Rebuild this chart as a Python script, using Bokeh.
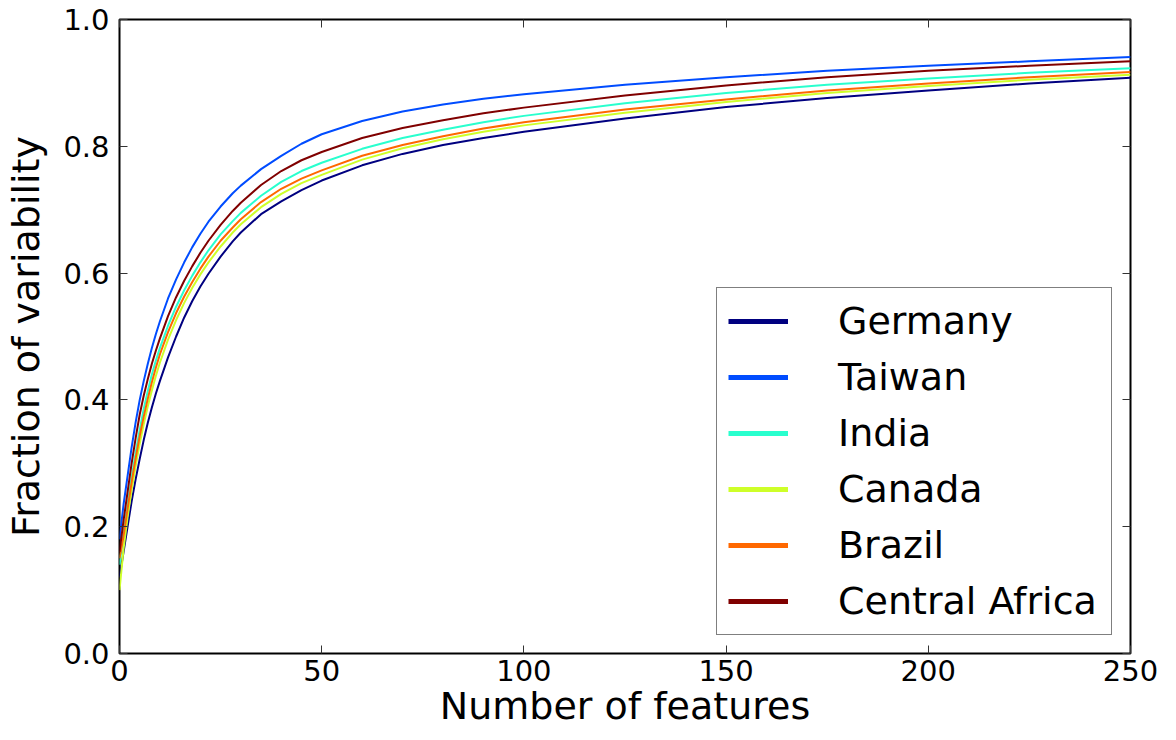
from bokeh.plotting import figure
from bokeh.models import (Range1d, FixedTicker, LinearAxis, Legend, LegendItem,
                          PrintfTickFormatter, CustomJSTickFormatter)
from bokeh.embed import file_html
from bokeh.resources import INLINE

# ---------------- data ----------------
features = [0, 1, 2, 3, 4, 5, 6, 7, 8, 9, 10, 12, 14, 16, 18, 20, 22, 25, 28, 30,
            35, 40, 45, 50, 60, 70, 80, 90, 100, 125, 150, 175, 200, 225, 250]

germany = [0.12, 0.16, 0.20, 0.24, 0.275, 0.307, 0.337, 0.364, 0.388, 0.41, 0.43,
           0.467, 0.50, 0.53, 0.556, 0.579, 0.599, 0.626, 0.65, 0.664,
           0.693, 0.713, 0.731, 0.746, 0.770, 0.788, 0.802, 0.813, 0.823,
           0.844, 0.862, 0.876, 0.888, 0.899, 0.908]
taiwan = [0.18, 0.235, 0.28, 0.325, 0.365, 0.40, 0.43, 0.457, 0.482, 0.504, 0.524,
          0.56, 0.59, 0.617, 0.641, 0.662, 0.681, 0.705, 0.726, 0.738,
          0.764, 0.785, 0.804, 0.819, 0.840, 0.855, 0.866, 0.875, 0.882,
          0.897, 0.909, 0.919, 0.927, 0.934, 0.941]
india = [0.14, 0.19, 0.235, 0.278, 0.317, 0.353, 0.386, 0.414, 0.44, 0.462, 0.482,
         0.517, 0.547, 0.573, 0.596, 0.617, 0.636, 0.661, 0.682, 0.695,
         0.722, 0.744, 0.761, 0.774, 0.796, 0.813, 0.826, 0.838, 0.848,
         0.868, 0.884, 0.897, 0.907, 0.916, 0.923]
canada = [0.10, 0.165, 0.215, 0.258, 0.296, 0.331, 0.362, 0.39, 0.415, 0.438, 0.459,
          0.495, 0.526, 0.553, 0.577, 0.598, 0.617, 0.642, 0.664, 0.677,
          0.704, 0.725, 0.742, 0.755, 0.779, 0.797, 0.811, 0.823, 0.833,
          0.853, 0.870, 0.884, 0.895, 0.905, 0.913]
brazil = [0.15, 0.185, 0.228, 0.27, 0.308, 0.343, 0.374, 0.402, 0.428, 0.451, 0.472,
          0.507, 0.537, 0.563, 0.586, 0.607, 0.626, 0.651, 0.672, 0.685,
          0.712, 0.733, 0.749, 0.762, 0.785, 0.802, 0.816, 0.828, 0.838,
          0.858, 0.874, 0.888, 0.899, 0.909, 0.917]
central_africa = [0.16, 0.21, 0.255, 0.30, 0.34, 0.377, 0.407, 0.433, 0.457, 0.478, 0.497,
                  0.532, 0.562, 0.588, 0.611, 0.632, 0.651, 0.676, 0.698, 0.711,
                  0.739, 0.761, 0.778, 0.791, 0.813, 0.829, 0.841, 0.852, 0.861,
                  0.880, 0.896, 0.909, 0.919, 0.927, 0.934]

countries = ["Germany", "Taiwan", "India", "Canada", "Brazil", "Central Africa"]
series = [germany, taiwan, india, canada, brazil, central_africa]
colors = ["#000080", "#004cff", "#29ffce", "#ceff29", "#ff6800", "#800000"]

x_ticks = [0, 50, 100, 150, 200, 250]
y_ticks = [0.0, 0.2, 0.4, 0.6, 0.8, 1.0]

FONT = "DejaVu Sans"

# ---------------- figure ----------------
p = figure(frame_width=1011, frame_height=634,
           x_range=Range1d(0, 250), y_range=Range1d(0, 1.0),
           output_backend="svg", toolbar_location=None,
           min_border_left=119, min_border_top=19,
           min_border_right=30, min_border_bottom=60)
p.extra_y_ranges = {"legend_only": Range1d(10, 11)}

p.background_fill_color = "white"
p.border_fill_color = "white"
p.outline_line_color = "black"
p.outline_line_width = 2
p.xgrid.visible = False
p.ygrid.visible = False

for name, ys, c in zip(countries, series, colors):
    p.line(features, ys, line_color=c, line_width=2)

# main axes
xa = p.xaxis[0]
ya = p.yaxis[0]
xa.ticker = FixedTicker(ticks=x_ticks)
ya.ticker = FixedTicker(ticks=y_ticks)
ya.formatter = PrintfTickFormatter(format="%.1f")
for ax in (xa, ya):
    ax.axis_line_color = None
    ax.major_tick_in = 8
    ax.major_tick_out = 0
    ax.minor_tick_line_color = None
    ax.major_tick_line_color = "#333333"
    ax.major_tick_line_width = 1
    ax.major_label_text_font = FONT
    ax.major_label_text_font_size = "29px"
    ax.major_label_text_color = "black"
    ax.axis_label_text_font = FONT
    ax.axis_label_text_font_size = "38px"
    ax.axis_label_text_font_style = "normal"
    ax.axis_label_text_color = "black"
xa.axis_label = "Number of features"
ya.axis_label = "Fraction of variability"
xa.major_label_standoff = 6
ya.major_label_standoff = 10
xa.axis_label_standoff = 0
ya.axis_label_standoff = 12

# mirror ticks on top and right (no labels)
blank = CustomJSTickFormatter(code="return ''")
top = LinearAxis(ticker=FixedTicker(ticks=x_ticks), formatter=blank)
right = LinearAxis(ticker=FixedTicker(ticks=y_ticks), formatter=blank)
for ax in (top, right):
    ax.axis_line_color = None
    ax.major_tick_in = 8
    ax.major_tick_out = 0
    ax.minor_tick_line_color = None
    ax.major_tick_line_color = "#333333"
    ax.major_label_standoff = 0
p.add_layout(top, "above")
p.add_layout(right, "right")

# legend with thicker sample lines (renderers placed on an off-screen range)
items = []
for name, ys, c in zip(countries, series, colors):
    r = p.line(features, ys, line_color=c, line_width=5, y_range_name="legend_only")
    items.append(LegendItem(label=name, renderers=[r]))
legend = Legend(items=items, location="bottom_right")
legend.label_text_font = FONT
legend.label_text_font_size = "38px"
legend.label_text_color = "black"
legend.glyph_width = 60
legend.glyph_height = 40
legend.label_height = 40
legend.label_width = 262
legend.label_standoff = 50
legend.spacing = 12
legend.padding = 11
legend.margin = 18
legend.border_line_color = "black"
legend.border_line_width = 1.5
legend.background_fill_color = "white"
legend.background_fill_alpha = 1.0
p.add_layout(legend, "center")

open("out.html", "w").write(file_html(p, INLINE))
